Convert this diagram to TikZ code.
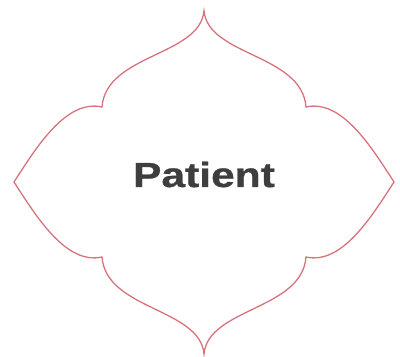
\documentclass[tikz,border=0pt]{standalone}
\usepackage{fontspec}
\newfontfamily\patientfont[FakeStretch=1.22,BoldFeatures={FakeBold=0.8}]{Liberation Sans}
\definecolor{archrose}{RGB}{214,112,122}
\definecolor{patientgray}{RGB}{62,62,62}

\begin{document}
\begin{tikzpicture}[x=1cm,y=1cm]
\tikzset{
  archline/.style={draw=archrose,line width=0.9pt,line cap=round,line join=miter},
  titletext/.style={inner sep=0pt,text=patientgray,font=\patientfont\bfseries\fontsize{24.8}{28}\selectfont}
}
\useasboundingbox (-5.1,-4.35) rectangle (4.9,4.55);
\coordinate (tip_N) at (0,4.28);
\coordinate (tip_S) at (0,-4.3);
\coordinate (tip_W) at (-4.75,0);
\coordinate (tip_E) at (4.75,0);
\coordinate (cusp_NW) at (-2.55,1.875);
\coordinate (cusp_SW) at (-2.55,-1.875);
\coordinate (cusp_SE) at (2.55,-1.875);
\coordinate (cusp_NE) at (2.55,1.875);
\draw[archline] (tip_N)
  .. controls (-0.1,3.15) and (-2.45,3.2) .. (cusp_NW)
  .. controls (-3.45,2.08) and (-4.2,0.85) .. (tip_W)
  .. controls (-4.2,-0.85) and (-3.45,-2.08) .. (cusp_SW)
  .. controls (-2.45,-3.2) and (-0.1,-3.15) .. (tip_S)
  .. controls (0.1,-3.15) and (2.45,-3.2) .. (cusp_SE)
  .. controls (3.45,-2.08) and (4.2,-0.85) .. (tip_E)
  .. controls (4.2,0.85) and (3.45,2.08) .. (cusp_NE)
  .. controls (2.45,3.2) and (0.1,3.15) .. (tip_N) -- cycle;
\node[titletext,anchor=base] (patient) at (0,-0.125) {Patient};
\end{tikzpicture}
\end{document}
